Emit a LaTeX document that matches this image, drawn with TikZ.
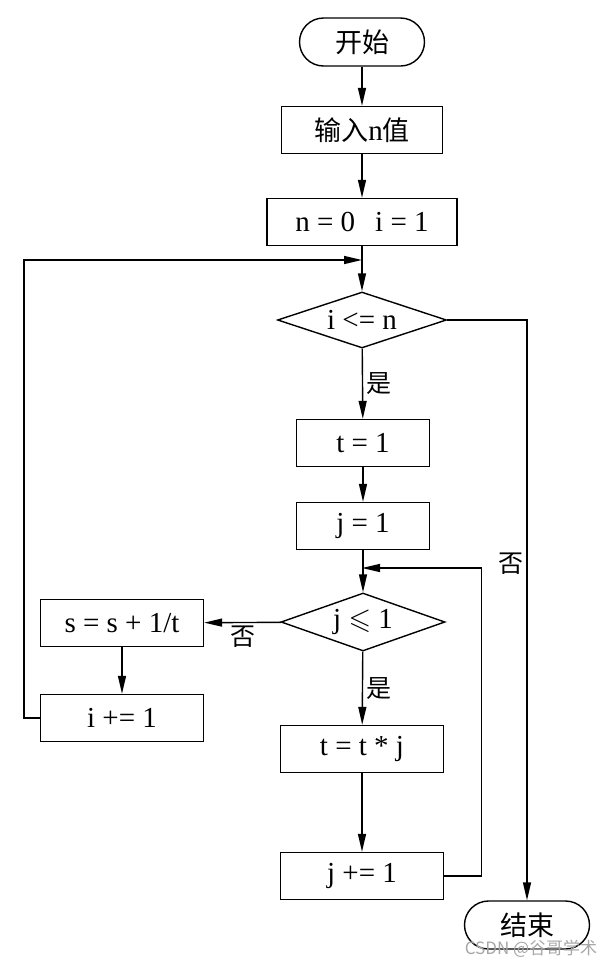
\documentclass[tikz,border=0pt]{standalone}
\usepackage{fontspec}
\usepackage{amssymb}
\setmainfont{Liberation Serif}
\newfontfamily\cjk{Noto Sans CJK SC}
\usetikzlibrary{arrows.meta,shapes.geometric}

\tikzset{
  box/.style={draw, line width=1.4pt, rectangle, minimum height=47pt, inner sep=0pt},
  term/.style={draw, line width=1.4pt, rectangle, rounded corners=24pt, minimum width=125pt, minimum height=48pt, inner sep=0pt, font=\cjk\fontsize{27}{30}\selectfont},
  cond/.style={draw, line width=1.4pt, diamond, aspect=3, inner sep=0pt},
  arr/.style={draw, line width=1.4pt, -{Triangle[length=18pt,width=8pt]}},
  lbl/.style={font=\cjk\fontsize{25}{28}\selectfont, inner sep=3pt}
}

\begin{document}
\begin{tikzpicture}[x=1pt, y=-1pt, font=\fontsize{29}{32}\selectfont]
\useasboundingbox (0,0) rectangle (614,967);

%main column%%%%%%%%%%%%%%%%%%%%%%%%%%%%%%%%%%%%%%%%%%%%%%%%%%%%%
\node[term] (start) at (362,42) {开始};
\node[box, minimum width=161pt] (input) at (362,130) {{\cjk\fontsize{27}{30}\selectfont 输入}n{\cjk\fontsize{27}{30}\selectfont 值}};
\node[box, minimum width=190pt] (init) at (362,222) {n = 0\hspace{20pt}i = 1};
\node[cond, minimum width=169pt, minimum height=56pt] (cond1) at (362,320) {i <= n};
\node[box, minimum width=133pt] (tone) at (363,443) {t = 1};
\node[box, minimum width=133pt] (jone) at (363,526) {j = 1};
\node[cond, minimum width=164pt, minimum height=58pt] (cond2) at (363,622) {j $\leqslant$ 1};
\node[box, minimum width=163pt] (mul) at (362,749) {t = t * j};
\node[box, minimum width=163pt] (incj) at (362,876) {j += 1};

%left column%%%%%%%%%%%%%%%%%%%%%%%%%%%%%%%%%%%%%%%%%%%%%%%%%%%%%
\node[box, minimum width=163pt] (sum) at (122,623) {s = s + 1/t};
\node[box, minimum width=163pt] (inci) at (122,718) {i += 1};

%end%%%%%%%%%%%%%%%%%%%%%%%%%%%%%%%%%%%%%%%%%%%%%%%%%%%%%%%%%%%%%
\node[term] (stop) at (527,925) {结束};
\node[font=\cjk\fontsize{17}{20}\selectfont, text=gray!70] (mark) at (531,949) {CSDN @谷哥学术};

\coordinate (backi) at (362,260);
\coordinate (backj) at (362,568);

%connectors
\draw[arr] (start) -- (input);
\draw[arr] (input) -- (init);
\draw[arr] (init) -- (cond1);
\draw[arr] (cond1) -- node[lbl, right] {是} (tone);
\draw[arr] (tone) -- (jone);
\draw[arr] (jone) -- (cond2);
\draw[arr] (cond2) -- node[lbl, right] {是} (mul);
\draw[arr] (mul) -- (incj);
\draw[arr] (cond2) -- node[lbl, below] {否} (sum);
\draw[arr] (sum) -- (inci);
\draw[arr] (inci.west) -- ++(-16,0) |- (backi);
\draw[arr] (incj.east) -- ++(37,0) |- (backj);
\draw[arr] (cond1.east) -| node[lbl, pos=0.71, left] {否} (stop.north);

\end{tikzpicture}
\end{document}
